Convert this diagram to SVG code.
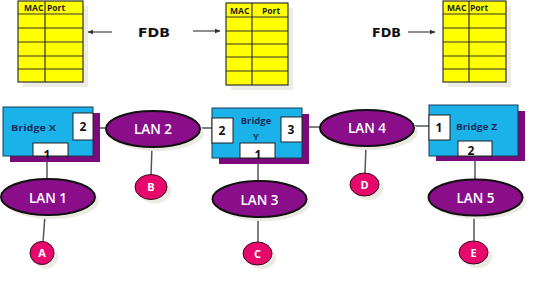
<svg xmlns="http://www.w3.org/2000/svg" width="539" height="294" viewBox="0 0 539 294">
<defs>
<style>
.tbl{fill:#ffff00;stroke:#333;stroke-width:1.2}
.tl{stroke:#333;stroke-width:1.2}
.tsh{fill:#ecece4}
.hd{font-family:"Open Sans","DejaVu Sans",sans-serif;font-weight:700;font-size:8.5px;fill:#222}
.fdb{font-family:"DejaVu Sans","Open Sans",sans-serif;font-weight:700;font-size:13px;fill:#111}
.arr{stroke:#444;stroke-width:1.2;fill:none;marker-end:url(#ah)}
.br{fill:#1ab2e8;stroke:#1b3a55;stroke-width:1}
.bsh{fill:#7c0a7c}
.port{fill:#fff;stroke:#222;stroke-width:1}
.pn{font-family:"Open Sans","DejaVu Sans",sans-serif;font-weight:700;font-size:12px;fill:#111;text-anchor:middle}
.bl{font-family:"Open Sans","DejaVu Sans",sans-serif;font-weight:700;font-size:9.5px;fill:#1c2d5a}
.lan{fill:#8a0e8a;stroke:#111;stroke-width:2}
.lsh{fill:#ecebe2}
.lt{font-family:"Open Sans","DejaVu Sans",sans-serif;font-weight:600;font-size:13.5px;fill:#fff;text-anchor:middle}
.st{fill:#e6086a;stroke:#3a0a20;stroke-width:1}
.stt{font-family:"Open Sans","DejaVu Sans",sans-serif;font-weight:700;font-size:11px;fill:#fff;text-anchor:middle}
.cn{stroke:#555;stroke-width:1.5;fill:none}
</style>
<marker id="ah" viewBox="0 0 10 10" refX="9" refY="5" markerWidth="6" markerHeight="6" orient="auto" markerUnits="userSpaceOnUse">
<path d="M0,1 L10,5 L0,9 Z" fill="#333"/>
</marker>
</defs>
<rect width="539" height="294" fill="#fff"/>

<g id="connectors">
<line class="cn" x1="47" y1="156" x2="47" y2="179"/>
<line class="cn" x1="45" y1="215" x2="43" y2="242"/>
<line class="cn" x1="93" y1="128" x2="106" y2="128"/>
<line class="cn" x1="152" y1="147" x2="151" y2="175"/>
<line class="cn" x1="200" y1="128" x2="212" y2="128"/>
<line class="cn" x1="258" y1="158" x2="258" y2="181"/>
<line class="cn" x1="258" y1="217" x2="258" y2="242"/>
<line class="cn" x1="302" y1="127" x2="320" y2="127"/>
<line class="cn" x1="366" y1="146" x2="365" y2="173"/>
<line class="cn" x1="414" y1="126" x2="429" y2="126"/>
<line class="cn" x1="475" y1="156" x2="475" y2="180"/>
<line class="cn" x1="474" y1="215" x2="474" y2="241"/>
<line class="arr" x1="112" y1="32" x2="88" y2="32"/>
<line class="arr" x1="193" y1="31" x2="220" y2="31"/>
<line class="arr" x1="408" y1="32" x2="435" y2="32"/>
</g>

<g id="fdb-x">
<rect class="tsh" x="23" y="6" width="65" height="81"/>
<rect class="tbl" x="18" y="1" width="65" height="81"/>
<line class="tl" x1="45" y1="1" x2="45" y2="82"/>
<line class="tl" x1="18" y1="14" x2="83" y2="14"/>
<line class="tl" x1="18" y1="28" x2="83" y2="28"/>
<line class="tl" x1="18" y1="42" x2="83" y2="42"/>
<line class="tl" x1="18" y1="56" x2="83" y2="56"/>
<line class="tl" x1="18" y1="69" x2="83" y2="69"/>
<text class="hd" x="24" y="11">MAC</text>
<text class="hd" x="47" y="11">Port</text>
</g>

<g id="fdb-y">
<rect class="tsh" x="231" y="8" width="62" height="82"/>
<rect class="tbl" x="226" y="3" width="62" height="82"/>
<line class="tl" x1="252" y1="3" x2="252" y2="85"/>
<line class="tl" x1="226" y1="17" x2="288" y2="17"/>
<line class="tl" x1="226" y1="31" x2="288" y2="31"/>
<line class="tl" x1="226" y1="44" x2="288" y2="44"/>
<line class="tl" x1="226" y1="57" x2="288" y2="57"/>
<line class="tl" x1="226" y1="71" x2="288" y2="71"/>
<text class="hd" x="230" y="14">MAC</text>
<text class="hd" x="262" y="14">Port</text>
</g>

<g id="fdb-z">
<rect class="tsh" x="448" y="6" width="63" height="81"/>
<rect class="tbl" x="443" y="1" width="63" height="81"/>
<line class="tl" x1="469" y1="1" x2="469" y2="82"/>
<line class="tl" x1="443" y1="14" x2="506" y2="14"/>
<line class="tl" x1="443" y1="28" x2="506" y2="28"/>
<line class="tl" x1="443" y1="42" x2="506" y2="42"/>
<line class="tl" x1="443" y1="56" x2="506" y2="56"/>
<line class="tl" x1="443" y1="69" x2="506" y2="69"/>
<text class="hd" x="447" y="11">MAC</text>
<text class="hd" x="470" y="11">Port</text>
</g>

<g id="fdb-label-1"><text class="fdb" x="138" y="37" textLength="32" lengthAdjust="spacingAndGlyphs">FDB</text></g>
<g id="fdb-label-2"><text class="fdb" x="372" y="37" textLength="29" lengthAdjust="spacingAndGlyphs">FDB</text></g>

<g id="bridge-x">
<rect class="bsh" x="10" y="113" width="90" height="49"/>
<rect class="br" x="3" y="107" width="90" height="49"/>
<rect class="port" x="73" y="113" width="20" height="27"/>
<text class="pn" x="83" y="131">2</text>
<rect class="port" x="33" y="143" width="35" height="13"/>
<text class="pn" x="47" y="159">1</text>
<text class="bl" x="11" y="131" textLength="45" lengthAdjust="spacingAndGlyphs">Bridge X</text>
</g>

<g id="bridge-y">
<rect class="bsh" x="219" y="114" width="90" height="50"/>
<rect class="br" x="212" y="108" width="90" height="50"/>
<rect class="port" x="212" y="118" width="21" height="25"/>
<text class="pn" x="222" y="135">2</text>
<rect class="port" x="281" y="117" width="21" height="25"/>
<text class="pn" x="291" y="134">3</text>
<rect class="port" x="240" y="143" width="35" height="15"/>
<text class="pn" x="258" y="159">1</text>
<text class="bl" x="256" y="124" text-anchor="middle">Bridge</text>
<text class="bl" x="256" y="140" text-anchor="middle">Y</text>
</g>

<g id="bridge-z">
<rect class="bsh" x="436" y="111" width="89" height="50"/>
<rect class="br" x="429" y="105" width="89" height="51"/>
<rect class="port" x="429" y="115" width="21" height="25"/>
<text class="pn" x="439" y="132">1</text>
<rect class="port" x="458" y="141" width="34" height="15"/>
<text class="pn" x="471" y="155">2</text>
<text class="bl" x="456" y="130" textLength="41" lengthAdjust="spacingAndGlyphs">Bridge Z</text>
</g>

<g id="lan-1">
<ellipse class="lsh" cx="52" cy="201" rx="47" ry="18"/>
<ellipse class="lan" cx="48" cy="197" rx="47" ry="18"/>
<text class="lt" x="48" y="203">LAN 1</text>
</g>
<g id="lan-2">
<ellipse class="lsh" cx="157" cy="133" rx="47" ry="18"/>
<ellipse class="lan" cx="153" cy="129" rx="47" ry="18"/>
<text class="lt" x="153" y="134">LAN 2</text>
</g>
<g id="lan-3">
<ellipse class="lsh" cx="263" cy="203" rx="47" ry="18"/>
<ellipse class="lan" cx="259.5" cy="199" rx="47" ry="18"/>
<text class="lt" x="259.5" y="205">LAN 3</text>
</g>
<g id="lan-4">
<ellipse class="lsh" cx="371" cy="132" rx="47" ry="18"/>
<ellipse class="lan" cx="367" cy="128" rx="47" ry="18"/>
<text class="lt" x="367" y="133">LAN 4</text>
</g>
<g id="lan-5">
<ellipse class="lsh" cx="479" cy="201" rx="47" ry="18"/>
<ellipse class="lan" cx="475.5" cy="197.5" rx="47" ry="18"/>
<text class="lt" x="475.5" y="203">LAN 5</text>
</g>

<g id="station-a">
<ellipse class="lsh" cx="46" cy="257" rx="12" ry="11.5"/>
<ellipse class="st" cx="42" cy="253" rx="12" ry="11.5"/>
<text class="stt" x="42" y="257">A</text>
</g>
<g id="station-b">
<ellipse class="lsh" cx="155" cy="191" rx="16" ry="12.5"/>
<ellipse class="st" cx="151" cy="187" rx="16" ry="12.5"/>
<text class="stt" x="151" y="191">B</text>
</g>
<g id="station-c">
<ellipse class="lsh" cx="261.5" cy="257.5" rx="14.5" ry="11.5"/>
<ellipse class="st" cx="257.5" cy="253.5" rx="14.5" ry="11.5"/>
<text class="stt" x="257.5" y="257.5">C</text>
</g>
<g id="station-d">
<ellipse class="lsh" cx="368.5" cy="188.5" rx="14.5" ry="11.5"/>
<ellipse class="st" cx="364.5" cy="184.5" rx="14.5" ry="11.5"/>
<text class="stt" x="364.5" y="188.5">D</text>
</g>
<g id="station-e">
<ellipse class="lsh" cx="477.5" cy="256.5" rx="14.5" ry="11.5"/>
<ellipse class="st" cx="473.5" cy="252.5" rx="14.5" ry="11.5"/>
<text class="stt" x="473.5" y="256.5">E</text>
</g>
</svg>
